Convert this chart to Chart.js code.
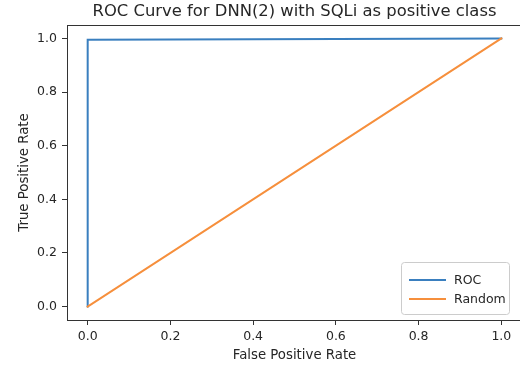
<!DOCTYPE html>
<html>
<head>
<meta charset="utf-8">
<script src="https://cdn.jsdelivr.net/npm/chart.js@4/dist/chart.umd.min.js"></script>
<style>
  html, body { margin: 0; padding: 0; overflow: hidden; background: #fff; }
  #wrap { width: 530px; height: 371px; }
</style>
</head>
<body>
<div id="wrap"><canvas id="roc" width="530" height="371"></canvas></div>
<script>
// ROC points (false positive rate / true positive rate)
const rocFpr = [0, 0, 1];
const rocTpr = [0, 0.995, 1];
// chance line
const randomFpr = [0, 1];
const randomTpr = [0, 1];

const xTicks = [0, 0.2, 0.4, 0.6, 0.8, 1.0];
const yTicks = [0, 0.2, 0.4, 0.6, 0.8, 1.0];

const titleText = 'ROC Curve for DNN(2) with SQLi as positive class';
const xLabel = 'False Positive Rate';
const yLabel = 'True Positive Rate';

const FONT = "'DejaVu Sans', sans-serif";
const INK = '#262626';

function toPoints(xs, ys) {
    return xs.map((x, i) => ({ x: x, y: ys[i] }));
}

// box around the plotting area
const frame = {
    id: 'frame',
    afterDatasetsDraw(chart) {
        const a = chart.chartArea;
        const ctx = chart.ctx;
        ctx.save();
        ctx.strokeStyle = '#333';
        ctx.lineWidth = 1;
        ctx.strokeRect(Math.round(a.left) + 0.5, Math.round(a.top) + 0.5,
            Math.round(a.right - a.left), Math.round(a.bottom - a.top));
        ctx.restore();
    }
};

// legend in the lower right corner of the axes
const insetLegend = {
    id: 'insetLegend',
    afterDraw(chart) {
        const a = chart.chartArea;
        const ctx = chart.ctx;
        const w = 108, h = 52;
        const x0 = a.right - 13 - w;
        const y0 = a.bottom - 6 - h;
        ctx.save();
        ctx.fillStyle = 'rgba(255,255,255,0.8)';
        ctx.strokeStyle = '#cccccc';
        ctx.lineWidth = 1;
        ctx.beginPath();
        ctx.roundRect(x0 + 0.5, y0 + 0.5, w, h, 3);
        ctx.fill();
        ctx.stroke();
        ctx.font = '12.5px ' + FONT;
        ctx.textBaseline = 'middle';
        ctx.textAlign = 'left';
        chart.data.datasets.forEach((ds, i) => {
            const y = y0 + 18 + i * 19;
            ctx.strokeStyle = ds.borderColor;
            ctx.lineWidth = 2;
            ctx.beginPath();
            ctx.moveTo(x0 + 8, y);
            ctx.lineTo(x0 + 45, y);
            ctx.stroke();
            ctx.fillStyle = INK;
            ctx.fillText(ds.label, x0 + 53, y + 1);
        });
        ctx.restore();
    }
};

const config = {
    type: 'line',
    data: {
        datasets: [
            {
                label: 'ROC',
                data: toPoints(rocFpr, rocTpr),
                borderColor: '#3a7fbf',
                borderWidth: 2,
                order: 1
            },
            {
                label: 'Random',
                data: toPoints(randomFpr, randomTpr),
                borderColor: '#f68f3c',
                borderWidth: 2,
                order: 0
            }
        ]
    },
    options: {
        responsive: false,
        animation: false,
        events: [],
        elements: {
            point: { radius: 0 },
            line: { tension: 0, borderCapStyle: 'square' }
        },
        layout: { padding: { top: 0, right: 8, bottom: 0, left: 0 } },
        plugins: {
            legend: { display: false },
            tooltip: { enabled: false },
            title: {
                display: true,
                fullSize: false,
                text: titleText,
                color: INK,
                font: { family: FONT, size: 16.4, weight: 'normal', lineHeight: 1.2 },
                padding: { top: 2.3, bottom: 3 }
            }
        },
        scales: {
            x: {
                type: 'linear',
                min: -0.05,
                max: 1.05,
                afterBuildTicks: s => { s.ticks = xTicks.map(v => ({ value: v })); },
                afterFit: s => { s.height = 51; },
                grid: { drawOnChartArea: false, drawTicks: true, tickLength: 5, color: '#333' },
                border: { display: false },
                ticks: {
                    color: INK,
                    padding: 4,
                    maxRotation: 0,
                    font: { family: FONT, size: 12.5 },
                    callback: v => v.toFixed(1)
                },
                title: {
                    display: true,
                    text: xLabel,
                    color: INK,
                    font: { family: FONT, size: 13.3, lineHeight: 1.2 },
                    padding: { top: 0, bottom: 7 }
                }
            },
            y: {
                type: 'linear',
                min: -0.05,
                max: 1.05,
                afterBuildTicks: s => { s.ticks = yTicks.map(v => ({ value: v })); },
                afterFit: s => { s.width = 67; },
                grid: { drawOnChartArea: false, drawTicks: true, tickLength: 5, color: '#333' },
                border: { display: false },
                ticks: {
                    color: INK,
                    padding: 5,
                    font: { family: FONT, size: 12.5 },
                    callback: v => v.toFixed(1)
                },
                title: {
                    display: true,
                    text: yLabel,
                    color: INK,
                    font: { family: FONT, size: 13.3, lineHeight: 1.2 },
                    padding: { top: 17, bottom: 0 }
                }
            }
        }
    },
    plugins: [frame, insetLegend]
};

new Chart(document.getElementById('roc').getContext('2d'), config);
</script>
</body>
</html>
